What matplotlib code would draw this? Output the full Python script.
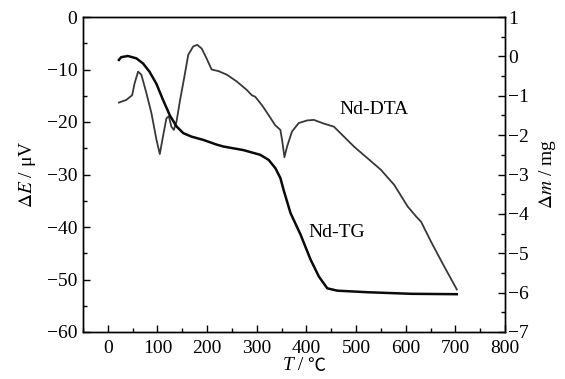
import matplotlib
matplotlib.use("Agg")
import matplotlib.pyplot as plt
from matplotlib.ticker import MultipleLocator

plt.rcParams['font.family'] = ['Liberation Serif', 'Noto Sans CJK SC']
plt.rcParams['mathtext.fontset'] = 'stix'
plt.rcParams['font.size'] = 14

# DTA curve (left axis, ΔE / μV)
dta_T = [22.3, 37, 49, 54, 61, 67.6, 77.7, 87.8, 98, 104.7, 111, 118, 123, 128, 133,
         138.4, 145, 153, 162, 172, 180, 189, 199, 209, 222.7, 240, 260, 280, 290,
         297, 310.5, 324, 337, 347.5, 351, 355.7, 361, 371, 384.6, 401.6, 415, 435,
         455.5, 475.7, 496, 523, 550, 577, 604, 621, 631, 651, 678, 703]
dta_E = [-16.3, -15.8, -14.9, -12.6, -10.4, -11.0, -14.5, -18.3, -23.4, -26.1, -22.8,
         -19.3, -18.9, -20.9, -21.5, -19.9, -16.1, -12.0, -7.2, -5.6, -5.3, -6.0, -7.9,
         -10.0, -10.3, -11.0, -12.3, -13.9, -14.9, -15.2, -16.8, -18.7, -20.6, -21.5,
         -23.4, -26.7, -24.7, -21.8, -20.2, -19.7, -19.6, -20.3, -20.9, -22.8, -24.7,
         -26.9, -29.1, -32.0, -36.1, -38.0, -39.0, -42.8, -47.6, -51.9]

# TG curve (right axis, Δm / mg)
tg_T = [22.3, 27, 40.5, 57.5, 71, 84, 98, 111, 125, 138.5, 152, 169, 192, 219, 233,
        273, 307, 324, 337.5, 347.6, 354, 368, 388, 408, 425, 442, 462, 523, 611, 703]
tg_m = [-0.09, -0.02, 0.01, -0.05, -0.18, -0.39, -0.70, -1.10, -1.50, -1.78, -1.95,
        -2.04, -2.12, -2.24, -2.29, -2.38, -2.50, -2.63, -2.84, -3.09, -3.39, -3.98,
        -4.52, -5.15, -5.59, -5.89, -5.95, -5.99, -6.03, -6.04]

fig = plt.figure(figsize=(5.65, 3.79), dpi=100)
fig.subplots_adjust(left=83/565, right=505/565, top=1-17/379, bottom=1-332/379)
ax = fig.add_subplot(111)
ax2 = ax.twinx()

ax.plot(dta_T, dta_E, color='#383838', lw=1.3)
ax2.plot(tg_T, tg_m, color='#0a0a0a', lw=1.8)

ax.set_xlim(-50, 800)
ax.set_ylim(-60, 0)
ax2.set_ylim(-7, 1)

ax.xaxis.set_major_locator(MultipleLocator(100))
ax.xaxis.set_minor_locator(MultipleLocator(50))
ax.yaxis.set_major_locator(MultipleLocator(10))
ax.yaxis.set_minor_locator(MultipleLocator(5))
ax2.yaxis.set_major_locator(MultipleLocator(1))
ax2.yaxis.set_minor_locator(MultipleLocator(0.5))

ax.tick_params(which='both', direction='in', top=False, right=False, width=1)
ax.tick_params(which='major', length=5)
ax.tick_params(which='minor', length=3)
ax.tick_params(axis='x', pad=6)
ax.tick_params(axis='y', pad=4)
ax2.tick_params(which='both', direction='in', left=False, right=True, width=1)
ax2.tick_params(which='major', length=5, pad=2)
ax2.tick_params(which='minor', length=3)

for a in (ax, ax2):
    for s in a.spines.values():
        s.set_linewidth(1.0)

ax.set_ylabel(r'$\Delta\mathit{E}$ / μV', labelpad=6)
ax2.set_ylabel(r'$\Delta\mathit{m}$ / mg', labelpad=6)

# x label: italic "T" followed by " / ℃" (separate pieces so the ℃ glyph can fall back)
renderer = fig.canvas.get_renderer()
y_lab = 1 - 366/379
gap = 4
t1 = fig.text(0, y_lab, 'T', style='italic', ha='left', va='center')
t2 = fig.text(0, y_lab, ' /', ha='left', va='center')
t3 = fig.text(0, y_lab, '℃', ha='left', va='center', fontsize=13,
              family=['Noto Sans CJK SC', 'DejaVu Sans'])
w1 = t1.get_window_extent(renderer).width
w2 = t2.get_window_extent(renderer).width
w3 = t3.get_window_extent(renderer).width
cx = 304
x1 = cx - (w1 + w2 + gap + w3) / 2
t1.set_x(x1 / 565)
t2.set_x((x1 + w1) / 565)
t3.set_x((x1 + w1 + w2 + gap) / 565)

ax.text(536, -17.7, 'Nd-DTA', ha='center', va='center')
ax.text(461, -41.1, 'Nd-TG', ha='center', va='center')

fig.savefig('out.png', dpi=100)
